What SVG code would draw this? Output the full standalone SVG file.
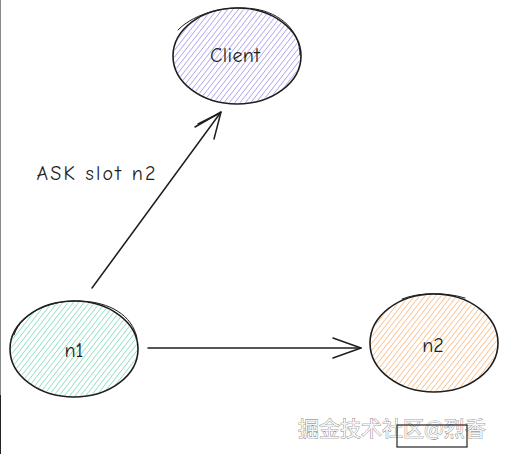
<svg xmlns="http://www.w3.org/2000/svg" width="507" height="454" viewBox="0 0 507 454">
<style>
.outline{fill:none;stroke:#1e1e1e;stroke-width:1.6;stroke-linecap:round}
.outline2{fill:none;stroke:#1e1e1e;stroke-width:1;stroke-linecap:round}
.lbl{font-family:"Comic Neue","Liberation Sans",sans-serif;font-size:20px;fill:#1e1e1e;text-anchor:middle;dominant-baseline:central}
.conn{fill:none;stroke:#1e1e1e;stroke-width:1.5;stroke-linecap:round;stroke-linejoin:round}
.wm{font-family:"Noto Sans CJK SC","Liberation Sans",sans-serif;font-size:21px;fill:#f6f6f6;stroke:#707070;stroke-width:0.7;paint-order:stroke}
</style>
<defs>
<pattern id="hPurple" width="4.2" height="4.2" patternUnits="userSpaceOnUse" patternTransform="rotate(38)">
<line x1="0" y1="0" x2="0" y2="4.2" stroke="#a99cec" stroke-width="1.5"/>
</pattern>
<pattern id="hGreen" width="4.2" height="4.2" patternUnits="userSpaceOnUse" patternTransform="rotate(38)">
<line x1="0" y1="0" x2="0" y2="4.2" stroke="#85dcbd" stroke-width="1.5"/>
</pattern>
<pattern id="hOrange" width="4.2" height="4.2" patternUnits="userSpaceOnUse" patternTransform="rotate(38)">
<line x1="0" y1="0" x2="0" y2="4.2" stroke="#f8b97e" stroke-width="1.5"/>
</pattern>
</defs>
<rect width="507" height="454" fill="#ffffff"/>
<line x1="0.5" y1="0" x2="0.5" y2="395" stroke="#8a8a8a" stroke-width="1"/>
<line x1="0.5" y1="395" x2="0.5" y2="454" stroke="#222" stroke-width="1"/>

<g id="client">
<ellipse cx="237" cy="56" rx="63" ry="47" fill="url(#hPurple)"/>
<ellipse cx="237" cy="56" rx="64" ry="48" class="outline"/>
<path d="M178 30 C195 12 230 5 255 9 C280 13 300 30 300 55" class="outline2"/>
<text x="235" y="55" class="lbl" textLength="50" lengthAdjust="spacing">Client</text>
</g>

<g id="n1">
<ellipse cx="74" cy="349" rx="63" ry="47" fill="url(#hGreen)"/>
<ellipse cx="74" cy="349" rx="64" ry="48" class="outline"/>
<path d="M14 335 C22 310 55 300 80 301 C110 302 132 315 137 338" class="outline2"/>
<text x="74" y="350" class="lbl">n1</text>
</g>

<g id="n2">
<ellipse cx="434" cy="343" rx="63" ry="48" fill="url(#hOrange)"/>
<ellipse cx="434" cy="343" rx="64" ry="49" class="outline"/>
<path d="M402 299 C420 292 445 292 465 298" class="outline2"/>
<text x="433" y="345" class="lbl">n2</text>
</g>

<g id="connectors">
<path d="M92 288 L221 112" class="conn"/>
<path d="M195 127 L221 112 L214 139" class="conn"/>
<path d="M198 124 L220 113" class="conn" stroke-width="1"/>
<path d="M148 348 L361 348" class="conn"/>
<path d="M333 338 L361 348 L333 358" class="conn"/>
<text x="96" y="173" class="lbl" textLength="119" lengthAdjust="spacing">ASK slot n2</text>
</g>

<g id="watermark">
<text x="298" y="436" class="wm">掘金技术社区@烈香</text>
<rect x="397" y="425" width="70" height="22" fill="none" stroke="#222" stroke-width="1.2"/>
</g>
</svg>
